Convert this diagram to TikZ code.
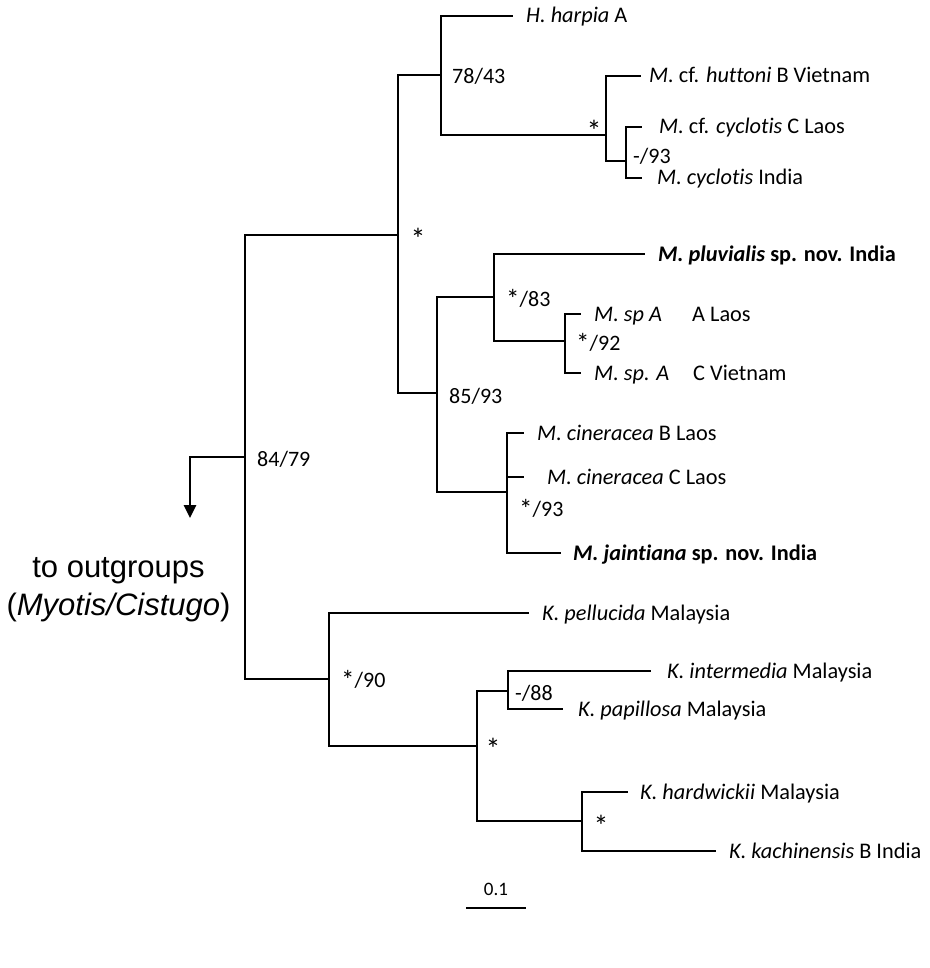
\documentclass[tikz,border=0pt]{standalone}
\usepackage{fontspec}
\setmainfont{Carlito}[Ligatures=CommonOff]
\newfontfamily\arialfont{Liberation Sans}
\usetikzlibrary{arrows.meta}
\newcommand\bst{{\fontsize{27}{27}\selectfont\raisebox{-2pt}{*}}}
\begin{document}
\begin{tikzpicture}[x=1pt,y=-1pt,
  br/.style={line width=2.7pt, line join=miter, draw=black},
  lab/.style={anchor=base west, inner sep=0pt, font=\fontsize{22.3}{26}\selectfont},
  sup/.style={anchor=base west, inner sep=0pt, font=\fontsize{22}{26}\selectfont},
  star/.style={anchor=base, inner sep=0pt, font=\fontsize{30}{32}\selectfont},
  og/.style={anchor=base, inner sep=0pt, font=\arialfont\fontsize{31}{37}\selectfont}]
\useasboundingbox (0,0) rectangle (929,968);
% internal nodes
\coordinate (R) at (245,457);
\coordinate (A) at (398,235);
\coordinate (B) at (441,75);
\coordinate (C) at (606,135);
\coordinate (D) at (626,161);
\coordinate (E) at (437,393);
\coordinate (F) at (494,297);
\coordinate (G) at (565,341);
\coordinate (H) at (507,492);
\coordinate (I) at (329,679);
\coordinate (J) at (477,746);
\coordinate (K) at (508,691);
\coordinate (L) at (582,821);
% tips
\coordinate (t1) at (513,16);
\coordinate (t2) at (641,76);
\coordinate (t3) at (642,127);
\coordinate (t4) at (642,178);
\coordinate (t5) at (645,254);
\coordinate (t6) at (581,314);
\coordinate (t7) at (581,373);
\coordinate (t8) at (524,433);
\coordinate (t9) at (524,477);
\coordinate (t10) at (561,553);
\coordinate (t11) at (529,613);
\coordinate (t12) at (651,671);
\coordinate (t13) at (563,709);
\coordinate (t14) at (628,792);
\coordinate (t15) at (716,851);
\coordinate (og) at (190,457);
\coordinate (ogend) at (190,518);
\coordinate (sb1) at (466,908);
\coordinate (sb2) at (526,908);
% branches
\draw[br] (R) |- (A); \draw[br] (R) |- (I);
\draw[br, -{Triangle[width=12pt,length=13pt]}] (R) -- (og) -- (ogend);
\draw[br] (A) |- (B); \draw[br] (A) |- (E);
\draw[br] (B) |- (t1); \draw[br] (B) |- (C);
\draw[br] (C) |- (t2); \draw[br] (C) |- (D);
\draw[br] (D) |- (t3); \draw[br] (D) |- (t4);
\draw[br] (E) |- (F); \draw[br] (E) |- (H);
\draw[br] (F) |- (t5); \draw[br] (F) |- (G);
\draw[br] (G) |- (t6); \draw[br] (G) |- (t7);
\draw[br] (H) |- (t8); \draw[br] (H) |- (t9); \draw[br] (H) |- (t10);
\draw[br] (I) |- (t11); \draw[br] (I) |- (J);
\draw[br] (J) |- (K); \draw[br] (J) |- (L);
\draw[br] (K) |- (t12); \draw[br] (K) |- (t13);
\draw[br] (L) |- (t14); \draw[br] (L) |- (t15);
\draw[br] (sb1) -- (sb2);
% tip labels
\node[lab] (l1) at (526,23) {\textit{H. harpia} A};
\node[lab] (l2) at (649,83) {\textit{M.} cf. \textit{huttoni} B Vietnam};
\node[lab] (l3) at (659,134) {\textit{M.} cf. \textit{cyclotis} C Laos};
\node[lab] (l4) at (657,185) {\textit{M. cyclotis} India};
\node[lab] (l5) at (658,261) {\textbf{\textit{M. pluvialis} sp. nov. India}};
\node[lab] (l6) at (594,321) {\textit{M. sp A}};
\node[lab] (l6b) at (692,321) {A Laos};
\node[lab] (l7) at (594,380) {\textit{M. sp. A}};
\node[lab] (l7b) at (693,380) {C Vietnam};
\node[lab] (l8) at (537,440) {\textit{M. cineracea} B Laos};
\node[lab] (l9) at (547,484) {\textit{M. cineracea} C Laos};
\node[lab] (l10) at (573,560) {\textbf{\textit{M. jaintiana} sp. nov. India}};
\node[lab] (l11) at (542,620) {\textit{K. pellucida} Malaysia};
\node[lab] (l12) at (667,678) {\textit{K. intermedia} Malaysia};
\node[lab] (l13) at (578,716) {\textit{K. papillosa} Malaysia};
\node[lab] (l14) at (640,799) {\textit{K. hardwickii} Malaysia};
\node[lab] (l15) at (729,858) {\textit{K. kachinensis} B India};
% support values
\node[sup] (s1) at (452,84) {78/43};
\node[star] (s2) at (594,142) {*};
\node[sup] (s3) at (633,164) {-/93};
\node[star] (s4) at (418,250) {*};
\node[sup] (s5) at (506,306) {\bst/83};
\node[sup] (s6) at (576,350) {\bst/92};
\node[sup] (s7) at (449,403) {85/93};
\node[sup] (s8) at (519,516) {\bst/93};
\node[sup] (s9) at (257,466) {84/79};
\node[sup] (s10) at (341,687) {\bst/90};
\node[sup] (s11) at (515,700) {-/88};
\node[star] (s12) at (493,759) {*};
\node[star] (s13) at (601,836) {*};
% outgroup text
\node[og] (o1) at (118.5,577) {to outgroups};
\node[og] (o2) at (118.5,615) {(\textit{Myotis/Cistugo})};
% scale
\node[anchor=base, inner sep=0pt, font=\fontsize{19}{22}\selectfont] (sc) at (496,895) {0.1};
\end{tikzpicture}
\end{document}
